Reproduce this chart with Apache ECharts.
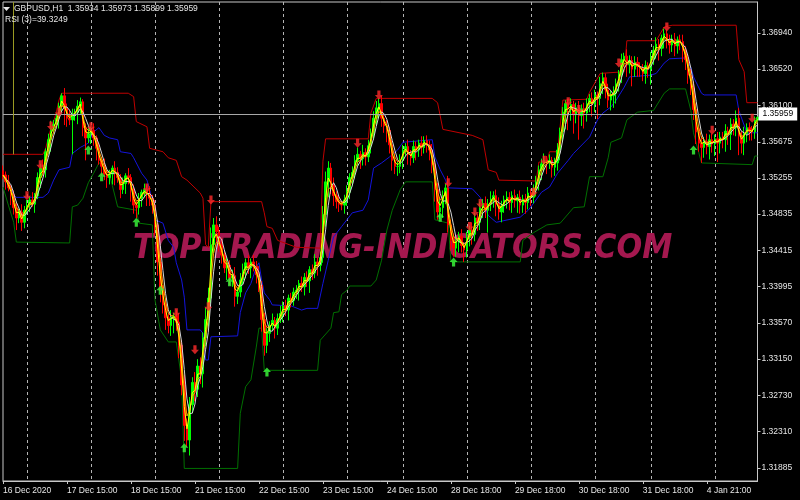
<!DOCTYPE html>
<html>
<head>
<meta charset="utf-8">
<script src="https://cdn.jsdelivr.net/npm/echarts@6/dist/echarts.min.js"></script>
<style>
html, body { margin: 0; padding: 0; background: #000; }
#main { width: 800px; height: 500px; }
</style>
</head>
<body>
<div id="main"></div>
<script>
// prices are kept as pips above 1.30000 (1 pip = 0.0001)
var base = 1.3;
var firstOpen = 534;

// GBPUSD H1 closes, one per bar
var closePips = [
  529,521,514,506,491,479,486,474,488,494,
  500,495,505,526,537,535,556,570,584,588,
  595,609,621,607,595,593,600,602,609,614,
  584,572,577,581,572,560,546,539,530,526,
  530,537,532,526,512,519,528,526,512,494,
  491,502,509,512,507,502,494,471,428,395,
  378,363,354,363,365,358,331,285,238,221,
  262,288,280,307,298,340,361,386,448,471,
  463,448,436,421,424,409,412,388,393,407,
  419,427,421,428,423,413,401,361,331,345,
  354,360,351,362,368,377,372,386,383,393,
  395,403,399,410,406,419,415,428,424,433,
  483,521,537,517,505,498,495,494,500,509,
  526,532,546,553,548,555,550,563,577,595,
  607,612,595,586,581,564,546,539,539,546,
  558,562,553,549,562,558,566,561,569,564,
  558,541,512,486,491,505,514,471,453,444,
  451,458,447,442,456,465,460,479,474,491,
  496,488,495,501,505,495,486,493,500,503,
  497,505,499,503,494,501,497,508,503,512,
  521,535,542,546,544,546,538,543,558,579,
  602,612,606,611,599,607,598,606,601,612,
  618,611,622,618,635,642,628,616,621,624,
  635,646,663,667,657,662,652,660,655,653,
  647,656,652,665,674,681,676,688,693,686,
  680,687,679,686,684,674,663,645,630,605,
  579,566,561,568,562,570,565,571,566,573,
  570,580,576,588,584,595,574,566,577,584,
  581,579,593,596
];

// how far each bar's high / low reaches past its body, pips
var wickUp = [
  6,4,8,3,5,7,4,9,5,6,
  4,9,3,6,5,10,4,7,8,5,
  6,4,3,9,5,10,6,4,7,5,
  3,5,7,4,8,3,6,4,9,5,
  5,3,8,6,4,7,3,9,4,6,
  4,6,3,7,5,9,4,6,3,5,
  6,8,5,9,4,7,10,6,12,8,
  9,6,12,8,10,6,14,12,20,8,
  10,6,8,5,9,6,7,10,5,8,
  7,5,9,4,8,6,10,5,8,6,
  5,8,4,6,9,5,7,4,6,5,
  6,4,8,5,7,4,6,9,5,7,
  10,12,8,6,9,5,7,4,6,8,
  5,7,6,8,4,9,5,7,6,8,
  8,6,9,5,7,4,6,8,5,7,
  6,4,8,5,7,6,4,8,5,6,
  5,7,6,8,12,6,5,14,6,8,
  6,5,8,4,7,5,9,6,5,7,
  5,8,6,9,5,7,8,6,5,7,
  6,5,7,4,8,5,6,7,5,6,
  7,5,6,8,5,7,4,6,8,5,
  6,4,5,7,4,6,8,5,7,6,
  5,7,6,4,8,6,5,7,6,8,
  6,5,7,4,8,6,5,7,6,5,
  5,6,4,7,5,8,6,4,6,5,
  6,5,7,4,6,8,5,6,7,8,
  7,6,8,5,9,6,7,5,8,6,
  6,8,5,7,6,9,12,6,8,5,
  6,5,4,1
];
var wickDn = [
  5,9,4,12,8,14,6,10,7,5,
  8,3,10,4,12,6,9,3,14,7,
  5,12,8,20,10,6,40,8,14,9,
  10,26,6,12,9,14,5,11,7,12,
  8,12,15,6,10,5,12,8,14,10,
  12,8,10,6,14,9,10,12,16,14,
  10,14,9,12,18,10,15,12,18,8,
  18,10,14,9,12,16,10,8,6,10,
  12,8,10,6,14,8,10,12,9,6,
  5,10,7,12,6,10,8,14,12,9,
  10,6,12,8,5,10,7,12,8,6,
  8,12,6,10,7,14,8,6,12,7,
  6,14,18,10,12,8,9,6,10,7,
  8,10,7,6,12,8,10,6,9,7,
  9,12,10,8,14,10,12,9,11,8,
  10,7,12,9,6,12,8,10,7,9,
  12,10,14,9,8,12,10,9,12,10,
  10,12,8,14,9,10,12,8,10,9,
  12,9,26,8,10,14,9,12,8,10,
  9,12,8,14,10,9,13,8,10,7,
  8,10,12,9,14,8,12,10,9,12,
  12,20,25,14,22,10,28,12,18,10,
  10,14,9,24,8,12,10,9,12,14,
  12,9,10,8,14,10,20,9,12,10,
  9,12,10,18,8,10,14,9,12,10,
  10,8,12,9,10,14,12,10,8,12,
  14,10,18,12,9,15,10,14,22,12,
  10,14,12,18,9,10,22,12,14,10,
  12,10,8,3
];

// time axis labels, one every 24 bars
var timeLabels = ['16 Dec 2020', '17 Dec 15:00', '18 Dec 15:00', '21 Dec 15:00', '22 Dec 15:00', '23 Dec 15:00',
  '24 Dec 15:00', '28 Dec 18:00', '29 Dec 18:00', '30 Dec 18:00', '31 Dec 18:00', '4 Jan 21:00'];
// bars where the dotted day separators sit
var dayBars = [9, 33, 57, 81, 105, 129, 150, 174, 198, 222, 243, 267];
// right scale labels
var priceTicks = [1.31885, 1.32310, 1.32730, 1.33150, 1.33570, 1.33995, 1.34415,
  1.34835, 1.35255, 1.35675, 1.36100, 1.36520, 1.36940];

// channel lines, read as [bar, pips] vertices
var upperBand = [[0,553],[15,553],[16,560],[17,572],[18,584],[19,591],[20,602],[21,616],[22,624],[47,624],[49,620],
  [50,591],[54,585],[55,560],[60,556],[62,549],[65,546],[67,527],[69,523],[74,508],[75,502],[76,448],[77,445],
  [78,498],[97,498],[98,485],[99,469],[101,467],[103,453],[110,445],[119,444],[120,545],[121,571],[137,571],
  [138,601],[140,618],[161,618],[163,613],[165,582],[176,575],[180,570],[182,535],[185,532],[186,523],[200,522],
  [201,544],[204,544],[205,556],[208,556],[210,616],[219,617],[220,625],[224,647],[233,649],[234,685],[245,685],
  [248,701],[251,703],[275,703],[276,663],[278,649],[279,613],[283,613]];
var lowerBand = [[0,515],[2,494],[4,474],[5,451],[25,450],[26,492],[28,494],[30,502],[32,520],[34,531],[36,543],
  [38,541],[40,529],[41,517],[43,492],[50,488],[51,473],[56,471],[57,384],[59,349],[62,335],[65,335],[67,291],
  [68,188],[88,188],[89,252],[91,283],[93,291],[95,329],[96,351],[97,351],[98,302],[118,302],[119,337],[123,351],
  [124,369],[126,370],[127,390],[129,395],[130,400],[138,400],[140,407],[142,430],[144,465],[146,488],[149,512],
  [151,521],[161,521],[162,477],[167,473],[168,428],[194,428],[195,453],[199,462],[204,471],[209,473],[214,491],
  [218,492],[220,527],[225,527],[227,549],[228,567],[232,572],[234,593],[238,602],[244,604],[248,624],[250,629],
  [256,629],[258,604],[259,578],[262,543],[281,541],[282,551],[283,551]];
var midBand = [[0,531],[3,515],[4,506],[5,503],[15,503],[17,508],[19,523],[21,535],[25,538],[26,554],[29,561],
  [32,566],[34,579],[36,584],[38,575],[40,572],[43,570],[44,556],[48,554],[49,549],[52,531],[54,523],[56,500],
  [57,477],[60,473],[62,453],[64,445],[65,427],[67,407],[68,387],[69,349],[74,349],[75,345],[76,314],[77,314],
  [78,341],[88,342],[89,369],[91,392],[93,403],[95,422],[96,427],[97,407],[98,392],[100,384],[101,378],[108,377],
  [112,372],[114,374],[118,374],[120,403],[122,430],[124,457],[127,469],[129,477],[131,485],[135,488],[137,500],
  [139,537],[142,543],[145,550],[148,558],[150,567],[161,570],[162,550],[164,535],[166,523],[167,514],[176,513],
  [179,503],[182,482],[185,474],[194,480],[197,488],[199,496],[202,509],[205,515],[208,531],[212,546],[214,554],
  [220,573],[223,593],[225,601],[228,608],[230,616],[233,631],[235,643],[243,645],[245,647],[248,659],[250,664],
  [256,665],[258,654],[259,643],[262,624],[263,622],[275,622],[276,604],[279,578],[283,578]];

// signal arrows [bar, pips]
var sellArrows = [[9,505],[14,541],[18,586],[21,602],[33,585],[54,514],[65,369],[72,326],[77,376],[78,500],
  [133,566],[141,622],[167,520],[175,469],[177,486],[179,496],[199,509],[203,546],[212,614],[216,605],
  [231,659],[249,701],[266,581],[281,595]];
var buyArrows = [[32,558],[37,527],[50,474],[59,395],[68,212],[85,405],[99,300],[164,480],[169,428],[259,558]];

var lastPrice = 1.35959;
var lastBar = [1.35934, 1.35973, 1.35899, 1.35959];
var rsiValue = 39.3249;

function px(p) { return +(base + p / 10000).toFixed(5); }

var categories = [];
var candles = [];
var closes = [];
for (var i = 0; i < closePips.length; i++) {
  categories.push(i % 24 === 0 ? timeLabels[i / 24] : String(i));
  var o = i === 0 ? firstOpen : closePips[i - 1];
  var c = closePips[i];
  var hi = Math.max(o, c) + wickUp[i];
  var lo = Math.min(o, c) - wickDn[i];
  candles.push([px(o), px(c), px(lo), px(hi)]);
  closes.push(px(c));
}

// moving averages of the closes (indicator lines)
function ema(src, n) {
  var k = 2 / (n + 1), out = [], prev = src[0];
  for (var i = 0; i < src.length; i++) {
    prev = i === 0 ? src[0] : src[i] * k + prev * (1 - k);
    out.push(+prev.toFixed(5));
  }
  return out;
}
function sma(src, n) {
  var out = [];
  for (var i = 0; i < src.length; i++) {
    var s = 0, m = 0;
    for (var j = Math.max(0, i - n + 1); j <= i; j++) { s += src[j]; m++; }
    out.push(+(s / m).toFixed(5));
  }
  return out;
}
function toPrice(list) {
  return list.map(function (v) { return [v[0], px(v[1])]; });
}

var fastLine = ema(closes, 2);
var midLine = ema(closes, 3);
var slowLine = sma(closes, 4);

var chart = echarts.init(document.getElementById('main'));

var option = {
  animation: false,
  backgroundColor: '#000',
  grid: {
    left: 2.7, right: 42.5, top: 2, bottom: 19,
    show: true, borderColor: '#c8c8c8', borderWidth: 1, backgroundColor: '#000'
  },
  xAxis: {
    type: 'category',
    data: categories,
    boundaryGap: false,
    axisLine: { show: true, lineStyle: { color: '#c8c8c8' } },
    axisTick: {
      show: true, length: 3, lineStyle: { color: '#c8c8c8' },
      interval: function (idx) { return idx % 24 === 0; }
    },
    axisLabel: {
      interval: function (idx) { return idx % 24 === 0; },
      color: '#e6e6e6', fontSize: 8.5, fontFamily: 'Liberation Sans',
      align: 'left', margin: 5, hideOverlap: false
    },
    splitLine: {
      show: true,
      interval: function (idx) { return dayBars.indexOf(idx) >= 0; },
      lineStyle: { color: '#b4b4b4', type: [3, 3], width: 1 }
    }
  },
  yAxis: {
    type: 'value',
    position: 'right',
    min: 1.31734,
    max: 1.37300,
    scale: true,
    axisLine: { show: true, lineStyle: { color: '#c8c8c8' } },
    axisTick: { show: true, length: 3, customValues: priceTicks, lineStyle: { color: '#c8c8c8' } },
    axisLabel: {
      customValues: priceTicks,
      formatter: function (v) { return v.toFixed(5); },
      color: '#e6e6e6', fontSize: 8.5, fontFamily: 'Liberation Sans', margin: 4
    },
    splitLine: { show: false }
  },
  graphic: [
    {
      type: 'text', x: 133, y: 232, scaleX: 0.89, z: 1, silent: true,
      style: {
        text: 'TOP-TRADING-INDICATORS.COM',
        font: 'italic bold 34px "DejaVu Sans"',
        fill: '#a4184f'
      }
    },
    {
      type: 'polygon', z: 10, silent: true,
      shape: { points: [[3, 7], [10, 7], [6.5, 11]] },
      style: { fill: '#e6e6e6' }
    },
    {
      type: 'text', left: 14, top: 4, z: 10, silent: true,
      style: {
        text: 'GBPUSD,H1  ' + lastBar.map(function (v) { return v.toFixed(5); }).join(' '),
        font: '8.5px "Liberation Sans"', fill: '#e6e6e6'
      }
    },
    {
      type: 'text', left: 5, top: 15, z: 10, silent: true,
      style: { text: 'RSI (3)=' + rsiValue.toFixed(4), font: '8.5px "Liberation Sans"', fill: '#e6e6e6' }
    }
  ],
  series: [
    {
      name: 'upper', type: 'line', data: toPrice(upperBand), showSymbol: false, z: 2,
      lineStyle: { color: '#c00000', width: 1 }
    },
    {
      name: 'lower', type: 'line', data: toPrice(lowerBand), showSymbol: false, z: 2,
      lineStyle: { color: '#007000', width: 1 }
    },
    {
      name: 'middle', type: 'line', data: toPrice(midBand), showSymbol: false, z: 2,
      lineStyle: { color: '#1414dc', width: 1 }
    },
    {
      name: 'GBPUSD', type: 'candlestick', data: candles, barWidth: 2, z: 3,
      itemStyle: {
        color: '#00ff00', color0: '#ff0000',
        borderColor: '#00ff00', borderColor0: '#ff0000', borderWidth: 1
      },
      markLine: {
        silent: true, symbol: 'none', animation: false,
        data: [
          {
            yAxis: lastPrice,
            lineStyle: { color: '#a8a8a8', type: 'solid', width: 1 },
            label: {
              show: true, position: 'end', formatter: lastPrice.toFixed(5),
              backgroundColor: '#ffffff', color: '#000', fontSize: 8.5,
              fontFamily: 'Liberation Sans', padding: [2, 4], distance: 1
            }
          },
          [
            { coord: [4, 1.373], lineStyle: { color: '#9a9a22', type: 'solid', width: 1 }, label: { show: false } },
            { coord: [4, px(553)] }
          ]
        ]
      }
    },
    {
      name: 'slow', type: 'line', data: slowLine, showSymbol: false, z: 4,
      lineStyle: { color: '#d8d8d8', width: 1 }
    },
    {
      name: 'orange', type: 'line', data: midLine, showSymbol: false, z: 4,
      lineStyle: { color: '#ff9a00', width: 1 }
    },
    {
      name: 'fast', type: 'line', data: fastLine, showSymbol: false, z: 4,
      lineStyle: { color: '#ffff00', width: 1 }
    },
    {
      name: 'sell', type: 'scatter', data: toPrice(sellArrows), z: 5,
      symbol: 'path://M3,0 L7,0 L7,5 L10,5 L5,10 L0,5 L3,5 Z', symbolSize: [8, 9],
      itemStyle: { color: '#ff2a2a' }
    },
    {
      name: 'buy', type: 'scatter', data: toPrice(buyArrows), z: 5,
      symbol: 'path://M5,0 L10,5 L7,5 L7,10 L3,10 L3,5 L0,5 Z', symbolSize: [8, 9],
      itemStyle: { color: '#3cff3c' }
    }
  ]
};

option && chart.setOption(option);
</script>
</body>
</html>
